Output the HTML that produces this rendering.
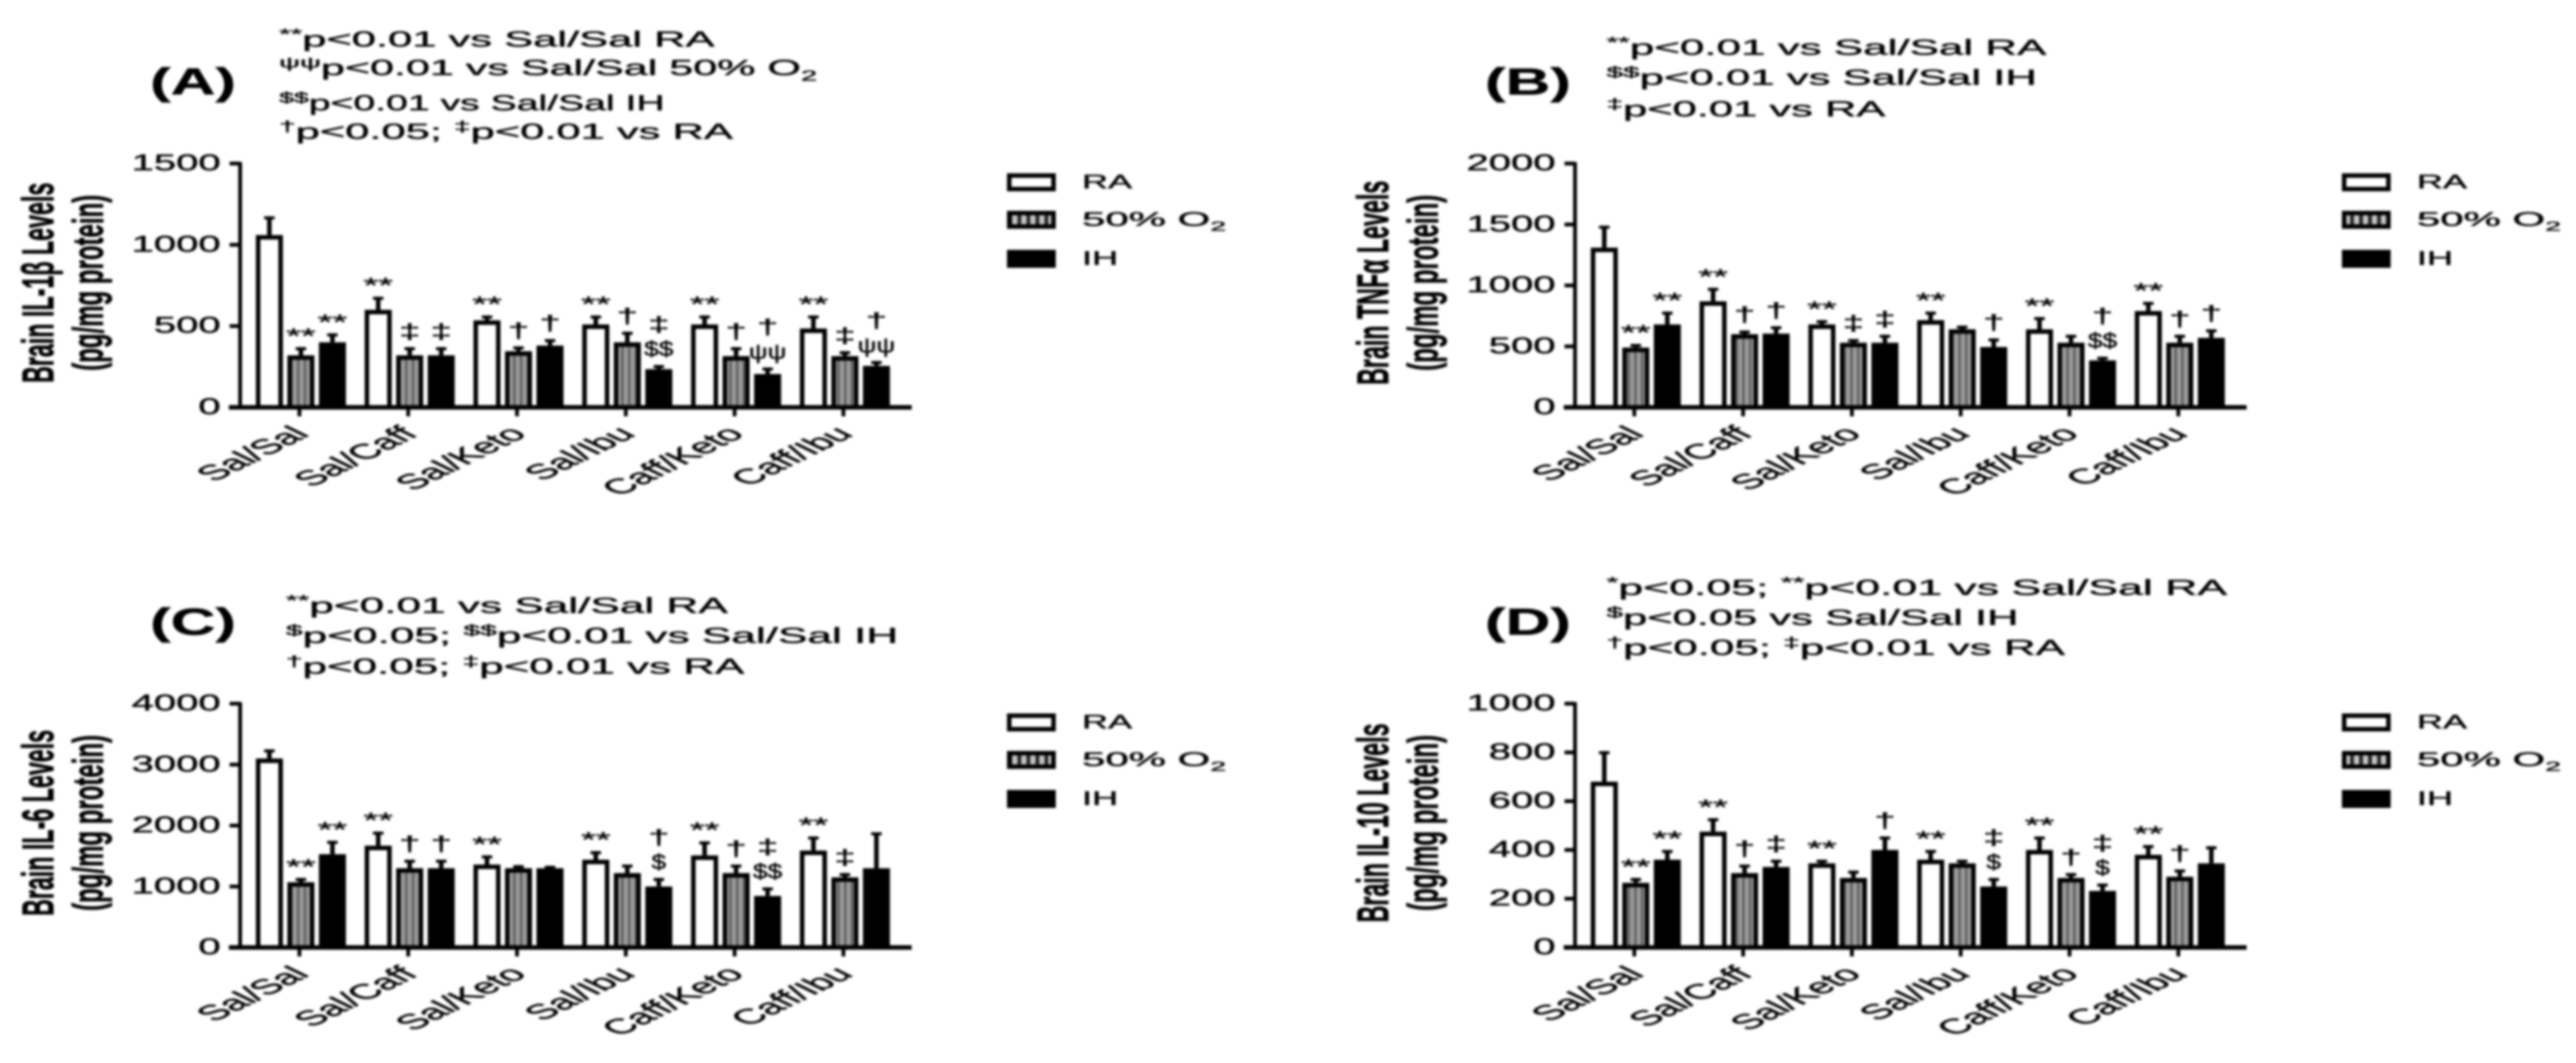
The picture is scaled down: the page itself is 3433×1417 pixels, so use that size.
<!DOCTYPE html>
<html lang="en">
<head>
<meta charset="utf-8">
<title>Brain cytokine levels</title>
<style>
html,body{margin:0;padding:0;background:#fff;width:3433px;height:1417px;overflow:hidden}
svg{display:block;filter:blur(1.6px)}
text{font-family:"Liberation Sans","DejaVu Sans",sans-serif;fill:#000;stroke:#000;stroke-width:.5px}
</style>
</head>
<body>
<svg id="figure" xmlns="http://www.w3.org/2000/svg" width="3433" height="1417" viewBox="0 0 3433 1417">
<defs>
<pattern id="stripes" width="9" height="9" patternUnits="userSpaceOnUse">
<rect width="9" height="9" fill="#9a9a9a"></rect>
<rect width="3" height="9" fill="#5a5a5a"></rect>
</pattern>
<pattern id="legend-stripes" width="12" height="12" patternUnits="userSpaceOnUse">
<rect width="12" height="12" fill="#c4c4c4"></rect>
<rect width="5" height="12" fill="#222"></rect>
</pattern>
</defs>
<rect width="3433" height="1417" fill="#fff"></rect>
</svg>
<script>
const categories = ['Sal/Sal', 'Sal/Caff', 'Sal/Keto', 'Sal/Ibu', 'Caff/Keto', 'Caff/Ibu'];
const seriesNames = ['RA', '50% O~2~', 'IH'];

const ticksA = [0, 500, 1000, 1500];
const raA = [1060, 600, 535, 510, 510, 485];
const o2A = [320, 320, 345, 400, 315, 315];
const ihA = [400, 320, 380, 235, 205, 255];
const raErrA = [115, 80, 30, 55, 55, 80];
const o2ErrA = [50, 50, 30, 65, 55, 30];
const ihErrA = [55, 50, 40, 25, 40, 30];
const marksA = [['', '**', '**'], ['**', '‡', '‡'], ['**', '†', '†'], ['**', '†', '‡|$$'], ['**', '†', '†|ψψ'], ['**', '‡', '†|ψψ']];

const ticksB = [0, 500, 1000, 1500, 2000];
const raB = [1310, 870, 680, 715, 640, 790];
const o2B = [490, 600, 530, 640, 530, 530];
const ihB = [680, 605, 530, 495, 385, 570];
const raErrB = [180, 110, 35, 70, 100, 75];
const o2ErrB = [30, 30, 30, 30, 65, 65];
const ihErrB = [105, 60, 65, 70, 30, 70];
const marksB = [['', '**', '**'], ['**', '†', '†'], ['**', '‡', '‡'], ['**', '', '†'], ['**', '', '†|$$'], ['**', '†', '†']];

const ticksC = [0, 1000, 2000, 3000, 4000];
const raC = [3100, 1670, 1360, 1440, 1510, 1590];
const o2C = [1070, 1300, 1300, 1220, 1220, 1150];
const ihC = [1530, 1300, 1300, 1000, 845, 1300];
const raErrC = [150, 230, 150, 140, 230, 230];
const o2ErrC = [70, 140, 50, 140, 140, 70];
const ihErrC = [220, 140, 40, 140, 140, 590];
const marksC = [['', '**', '**'], ['**', '†', '†'], ['**', '', ''], ['**', '', '†|$'], ['**', '†', '‡|$$'], ['**', '‡', '']];

const ticksD = [0, 200, 400, 600, 800, 1000];
const raD = [680, 475, 345, 360, 400, 380];
const o2D = [265, 305, 285, 345, 285, 290];
const ihD = [360, 330, 400, 250, 232, 345];
const raErrD = [125, 55, 15, 40, 55, 40];
const o2ErrD = [20, 35, 30, 15, 20, 30];
const ihErrD = [40, 30, 55, 35, 30, 70];
const marksD = [['', '**', '**'], ['**', '†', '‡'], ['**', '', '†'], ['**', '', '‡|$'], ['**', '†', '‡|$'], ['**', '†', '']];

const notesA = ['^**^p<0.01 vs Sal/Sal RA', '^ψψ^p<0.01 vs Sal/Sal 50% O~2~', '^$$^p<0.01 vs Sal/Sal IH', '^†^p<0.05; ^‡^p<0.01 vs RA'];
const notesB = ['^**^p<0.01 vs Sal/Sal RA', '^$$^p<0.01 vs Sal/Sal IH', '^‡^p<0.01 vs RA'];
const notesC = ['^**^p<0.01 vs Sal/Sal RA', '^$^p<0.05; ^$$^p<0.01 vs Sal/Sal IH', '^†^p<0.05; ^‡^p<0.01 vs RA'];
const notesD = ['^*^p<0.05; ^**^p<0.01 vs Sal/Sal RA', '^$^p<0.05 vs Sal/Sal IH', '^†^p<0.05; ^‡^p<0.01 vs RA'];

const svg = document.getElementById('figure');
const NS = 'http://www.w3.org/2000/svg';
const SX = 1.8;
const PLOT_H = 325;

function make(tag, attrs, parent) {
  const e = document.createElementNS(NS, tag);
  for (const k in attrs) e.setAttribute(k, attrs[k]);
  parent.appendChild(e);
  return e;
}

function richText(node, str, size) {
  const parts = str.split(/(\^[^^]*\^|~[^~]*~)/);
  let shift = 0;
  parts.forEach(function (p) {
    if (!p) return;
    const t = make('tspan', {}, node);
    if (p[0] === '^') {
      t.textContent = p.slice(1, -1);
      t.setAttribute('font-size', size * 0.68);
      t.setAttribute('dy', -size * 0.35 - shift);
      shift = -size * 0.35;
    } else if (p[0] === '~') {
      t.textContent = p.slice(1, -1);
      t.setAttribute('font-size', size * 0.68);
      t.setAttribute('dy', size * 0.25 - shift);
      shift = size * 0.25;
    } else {
      t.textContent = p;
      t.setAttribute('dy', -shift);
      shift = 0;
    }
  });
}

function label(parent, x, y, str, size, anchor, rot, weight, sx) {
  const t = make('text', {
    transform: 'translate(' + x + ',' + y + ') scale(' + (sx || SX) + ',1)' + (rot ? ' rotate(' + rot + ')' : ''),
    'font-size': size,
    'text-anchor': anchor || 'start',
    'font-weight': weight || 'normal'
  }, parent);
  richText(t, str, size);
  return t;
}

function drawPanel(cfg) {
  const g = make('g', {}, svg);
  
  

  const y0 = 543 + cfg.dy;
  const axisX = 320 + cfg.dx;
  const yScale = function (v) { return y0 - v / cfg.max * PLOT_H; };
  const xBar = function (group, series) { return axisX + 21 + group * 145 + series * 42; };
  const xGroup = function (group) { return xBar(group, 1) + 16; };

  const panelLabel = label(g, cfg.labelX + cfg.dx, 126 + cfg.labelDy, '(' + cfg.letter + ')', 50, 'start', 0, 'bold', 1.65);
  
  

  cfg.notes.forEach(function (line, i) {
    const n = label(g, cfg.noteX + cfg.dx, cfg.noteY[i], line, 29, 'start', 0, 'normal', cfg.noteSx[i]);
    
    
  });

  const yt1 = label(g, 71 + cfg.dx, 377 + cfg.dy, cfg.ylabel, 31, 'middle', -90, 'bold', 1.9);
  
  
  const yt2 = label(g, 137 + cfg.dx, 377 + cfg.dy, '(pg/mg protein)', 32, 'middle', -90, 'bold');
  
  

  const values = [cfg.ra, cfg.o2, cfg.ih];
  const errors = [cfg.raErr, cfg.o2Err, cfg.ihErr];
  const fills = ['#fff', 'url(#stripes)', '#000'];
  const names = ['ra', 'o2', 'ih'];

  categories.forEach(function (cat, gi) {
    values.forEach(function (vals, si) {
      const x = xBar(gi, si);
      const top = yScale(vals[gi]);
      const errTop = yScale(vals[gi] + errors[si][gi]);
      const cx = x + 18;

      const stem = make('line', { x1: cx, x2: cx, y1: top, y2: errTop, stroke: '#000', 'stroke-width': 6 }, g);
      
      
      const cap = make('line', { x1: cx - 7, x2: cx + 7, y1: errTop + 2, y2: errTop + 2, stroke: '#000', 'stroke-width': 4 }, g);
      
      

      const bar = make('rect', {
        x: x + 3, y: top + 3, width: 30, height: y0 - top - 3,
        fill: fills[si], stroke: '#000', 'stroke-width': 6
      }, g);
      
      

      const stack = cfg.marks[gi][si] ? cfg.marks[gi][si].split('|').reverse() : [];
      let yPos = errTop - 12;
      stack.forEach(function (sym) {
        const isStar = sym === '**';
        const isNarrow = sym.indexOf('$') >= 0 || sym.indexOf('ψ') >= 0;
        const m = make('text', {
          transform: 'translate(' + cx + ',' + (isStar ? yPos + 6 : yPos) + ') scale(' + (isNarrow ? 1.25 : SX) + ',1)',
          'font-size': 28, 'text-anchor': 'middle'
        }, g);
        m.textContent = sym;
        
        
        yPos -= 33;
      });
    });

    const tx = xGroup(gi);
    const tk = make('line', { x1: tx, x2: tx, y1: y0, y2: y0 + 12, stroke: '#000', 'stroke-width': 5 }, g);
    
    
    const cl = label(g, tx + 15, y0 + 37, cat, 28, 'end', -45, 'normal', 2.05);
    
    
  });

  const yAxis = make('line', { x1: axisX, x2: axisX, y1: y0, y2: yScale(cfg.max) - 2, stroke: '#000', 'stroke-width': 5 }, g);
  
  
  const xAxis = make('line', { x1: axisX - 15, x2: axisX + 895, y1: y0, y2: y0, stroke: '#000', 'stroke-width': 6 }, g);
  
  

  cfg.ticks.forEach(function (v) {
    const y = yScale(v);
    const t = make('line', { x1: axisX - 14, x2: axisX, y1: y, y2: y, stroke: '#000', 'stroke-width': 5 }, g);
    
    
    const tl = label(g, axisX - 26, y + 9, String(v), 31, 'end', 0, 'normal', 1.72);
    
    
  });

  const legendY = [243, 293, 345];
  const legendFills = ['#fff', 'url(#legend-stripes)', '#000'];
  seriesNames.forEach(function (nm, i) {
    const ly = legendY[i] + cfg.dy;
    const sw = make('rect', {
      x: 1345 + cfg.dx, y: ly - 9, width: 59, height: 18,
      fill: legendFills[i], stroke: '#000', 'stroke-width': 6
    }, g);
    
    
    const lt = label(g, 1442 + cfg.dx, ly + 8, nm, 26, 'start', 0, 'normal', i === 1 ? 2.15 : 1.85);
    
    
  });
}

drawPanel({ letter: 'A', dx: 0, dy: 0, max: 1500, ticks: ticksA, ra: raA, o2: o2A, ih: ihA, raErr: raErrA, o2Err: o2ErrA, ihErr: ihErrA, marks: marksA, notes: notesA, noteSx: [2.0, 1.98, 1.8, 2.0], noteX: 372, noteY: [62, 100, 147, 185], labelX: 200, labelDy: 0, ylabel: 'Brain IL-1β Levels' });
drawPanel({ letter: 'B', dx: 1779, dy: 0, max: 2000, ticks: ticksB, ra: raB, o2: o2B, ih: ihB, raErr: raErrB, o2Err: o2ErrB, ihErr: ihErrB, marks: marksB, notes: notesB, noteSx: [2.02, 2.01, 2.0], noteX: 362, noteY: [73, 113, 155], labelX: 200, labelDy: 0, ylabel: 'Brain TNFα Levels' });
drawPanel({ letter: 'C', dx: 0, dy: 720, max: 4000, ticks: ticksC, ra: raC, o2: o2C, ih: ihC, raErr: raErrC, o2Err: o2ErrC, ihErr: ihErrC, marks: marksC, notes: notesC, noteSx: [2.03, 2.03, 2.02], noteX: 381, noteY: [817, 857, 898], labelX: 200, labelDy: 720, ylabel: 'Brain IL-6 Levels' });
drawPanel({ letter: 'D', dx: 1779, dy: 720, max: 1000, ticks: ticksD, ra: raD, o2: o2D, ih: ihD, raErr: raErrD, o2Err: o2ErrD, ihErr: ihErrD, marks: marksD, notes: notesD, noteSx: [2.05, 2.0, 2.02], noteX: 362, noteY: [793, 833, 873], labelX: 200, labelDy: 720, ylabel: 'Brain IL-10 Levels' });
</script>
</body>
</html>
